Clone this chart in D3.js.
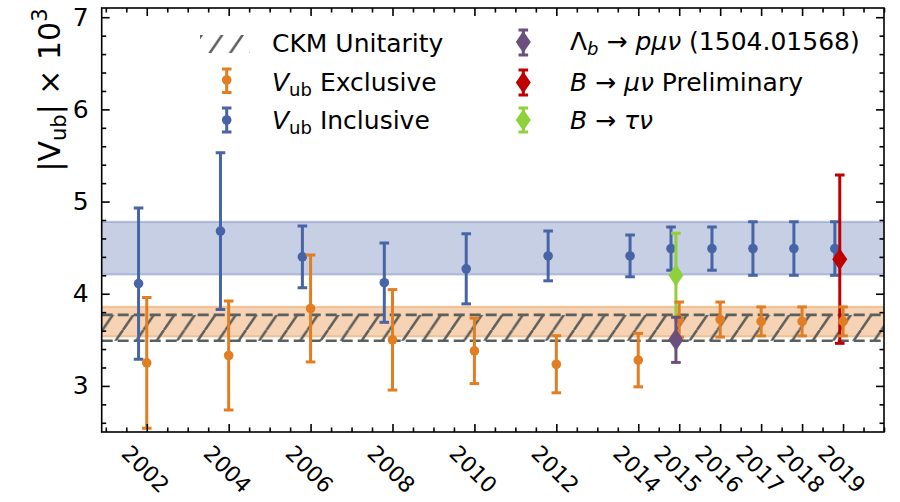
<!DOCTYPE html>
<html>
<head>
<meta charset="utf-8">
<script src="https://cdn.jsdelivr.net/npm/d3@7/dist/d3.min.js"></script>
<style>
  html, body { margin: 0; padding: 0; background: #fff; }
  svg { display: block; font-family: "DejaVu Sans", sans-serif; }
</style>
</head>
<body>
<svg id="chart" width="900" height="502"></svg>
<script>
// |Vub| determinations by year
const years = [2002, 2004, 2006, 2008, 2010, 2012, 2014, 2015, 2016, 2017, 2018, 2019];
const inclusiveVal = [4.11, 4.68, 4.40, 4.12, 4.27, 4.41, 4.41, 4.49, 4.49, 4.49, 4.49, 4.49];
const inclusiveErr = [0.82, 0.85, 0.335, 0.43, 0.38, 0.27, 0.226, 0.235, 0.235, 0.29, 0.29, 0.29];
const exclusiveVal = [3.25, 3.33, 3.84, 3.50, 3.38, 3.235, 3.28, 3.72, 3.72, 3.70, 3.70, 3.70];
const exclusiveErr = [0.71, 0.59, 0.58, 0.545, 0.355, 0.31, 0.29, 0.19, 0.19, 0.157, 0.157, 0.157];

// averages shown as horizontal bands [low, high]
const inclusiveBand = [4.21, 4.78];
const exclusiveBand = [3.535, 3.86];
const ckmBand = [3.49, 3.77];

// single measurements: [year, value, error]
const lambdaB = [2015, 3.50, 0.245];
const tauNu = [2015, 4.20, 0.455];
const muNu = [2019, 4.375, 0.913];

const tickYears = [2002, 2004, 2006, 2008, 2010, 2012, 2014, 2015, 2016, 2017, 2018, 2019];
const yTickValues = [3, 4, 5, 6, 7];

const colors = {
  inclusive: "#4764a6",
  exclusive: "#e17e23",
  lambda: "#6b4f7c",
  mu: "#bf0000",
  tau: "#8ed13b",
  ckm: "#5c5f5c"
};

const svg = d3.select("#chart");
const x = d3.scaleLinear().domain([2000.9, 2020.0]).range([101.7, 884]);
const y = d3.scaleLinear().domain([2.5, 7.1]).range([432, 8]);
const [x0, x1] = x.range();
const [yb, yt] = y.range();

// hatch pattern for the CKM band
const defs = svg.append("defs");
const pat = defs.append("pattern")
  .attr("id", "hatch").attr("patternUnits", "userSpaceOnUse")
  .attr("width", 20.5).attr("height", 30);
pat.append("path")
  .attr("d", "M-20.5,30 L0,0 M0,30 L20.5,0 M20.5,30 L41,0")
  .attr("stroke", colors.ckm).attr("stroke-width", 2.5).attr("fill", "none");

defs.append("clipPath").attr("id", "plotclip")
  .append("rect").attr("x", x0).attr("y", yt).attr("width", x1 - x0).attr("height", yb - yt);

const plot = svg.append("g").attr("clip-path", "url(#plotclip)");

function band(range, color, opacity, edgeOpacity) {
  plot.append("rect")
    .attr("x", x0).attr("width", x1 - x0)
    .attr("y", y(range[1])).attr("height", y(range[0]) - y(range[1]))
    .attr("fill", color).attr("fill-opacity", opacity);
  range.forEach(v => plot.append("line")
    .attr("x1", x0).attr("x2", x1).attr("y1", y(v)).attr("y2", y(v))
    .attr("stroke", color).attr("stroke-opacity", edgeOpacity).attr("stroke-width", 2));
}
band(inclusiveBand, colors.inclusive, 0.31, 0.35);
band(exclusiveBand, colors.exclusive, 0.34, 0.35);

// CKM unitarity band: hatched with dashed edges
plot.append("rect")
  .attr("x", x0).attr("width", x1 - x0)
  .attr("y", y(ckmBand[1])).attr("height", y(ckmBand[0]) - y(ckmBand[1]))
  .attr("fill", "url(#hatch)");
ckmBand.forEach(v => plot.append("line")
  .attr("x1", x0).attr("x2", x1).attr("y1", y(v)).attr("y2", y(v))
  .attr("stroke", colors.ckm).attr("stroke-width", 2.7)
  .attr("stroke-dasharray", "11,5"));

function errorBar(g, cx, cy, yTop, yBot, color, cap) {
  g.append("line").attr("x1", cx).attr("x2", cx).attr("y1", yTop).attr("y2", yBot)
    .attr("stroke", color).attr("stroke-width", 3);
  [yTop, yBot].forEach(v => g.append("line")
    .attr("x1", cx - cap).attr("x2", cx + cap).attr("y1", v).attr("y2", v)
    .attr("stroke", color).attr("stroke-width", 3));
}
function circleMark(g, cx, cy, color) {
  g.append("circle").attr("cx", cx).attr("cy", cy).attr("r", 4.8).attr("fill", color);
}
function diamondMark(g, cx, cy, color) {
  g.append("path")
    .attr("d", `M${cx},${cy - 11} L${cx + 7.5},${cy} L${cx},${cy + 11} L${cx - 7.5},${cy} Z`)
    .attr("fill", color);
}

function series(vals, errs, offset, color) {
  const g = plot.append("g");
  years.forEach((yr, i) => {
    const cx = x(yr + offset), v = vals[i], e = errs[i];
    errorBar(g, cx, y(v), y(v + e), y(v - e), color, 4.8);
    circleMark(g, cx, y(v), color);
  });
}
function single(m, offset, color) {
  const g = plot.append("g");
  const cx = x(m[0] + offset);
  errorBar(g, cx, y(m[1]), y(m[1] + m[2]), y(m[1] - m[2]), color, 4.8);
  diamondMark(g, cx, y(m[1]), color);
}

series(inclusiveVal, inclusiveErr, -0.2, colors.inclusive);
single(tauNu, -0.08, colors.tau);
single(muNu, -0.08, colors.mu);
series(exclusiveVal, exclusiveErr, 0, colors.exclusive);
single(lambdaB, -0.08, colors.lambda);

// axes: inward ticks on all four sides
const minorX = d3.range(2001, 2020.01, 0.5).filter(v => !tickYears.includes(v));
const minorY = d3.range(2.6, 7.01, 0.2).filter(v => !yTickValues.some(t => Math.abs(t - v) < 1e-6));

function styleAxis(g) {
  g.select(".domain").remove();
  g.selectAll(".tick line").attr("stroke", "#000").attr("stroke-width", 1.6);
}

svg.append("g").attr("transform", `translate(0,${yb})`)
  .call(d3.axisBottom(x).tickValues(tickYears).tickSize(-8).tickFormat("")).call(styleAxis);
svg.append("g").attr("transform", `translate(0,${yb})`)
  .call(d3.axisBottom(x).tickValues(minorX).tickSize(-4.5).tickFormat("")).call(styleAxis);
svg.append("g").attr("transform", `translate(0,${yt})`)
  .call(d3.axisTop(x).tickValues(tickYears).tickSize(-8).tickFormat("")).call(styleAxis);
svg.append("g").attr("transform", `translate(0,${yt})`)
  .call(d3.axisTop(x).tickValues(minorX).tickSize(-4.5).tickFormat("")).call(styleAxis);

const yAxisG = svg.append("g").attr("transform", `translate(${x0},0)`)
  .call(d3.axisLeft(y).tickValues(yTickValues).tickSize(-8).tickPadding(13).tickFormat(d3.format("d")))
  .call(styleAxis);
yAxisG.selectAll(".tick text").attr("font-size", 25).attr("fill", "#000")
  .attr("font-family", "DejaVu Sans");
svg.append("g").attr("transform", `translate(${x0},0)`)
  .call(d3.axisLeft(y).tickValues(minorY).tickSize(-4.5).tickFormat("")).call(styleAxis);
svg.append("g").attr("transform", `translate(${x1},0)`)
  .call(d3.axisRight(y).tickValues(yTickValues).tickSize(-8).tickFormat("")).call(styleAxis);
svg.append("g").attr("transform", `translate(${x1},0)`)
  .call(d3.axisRight(y).tickValues(minorY).tickSize(-4.5).tickFormat("")).call(styleAxis);

svg.append("rect").attr("x", x0).attr("y", yt).attr("width", x1 - x0).attr("height", yb - yt)
  .attr("fill", "none").attr("stroke", "#000").attr("stroke-width", 1.6);

// rotated year labels
svg.append("g").selectAll("text").data(tickYears).join("text")
  .attr("transform", d => `translate(${x(d) - 1},${yb + 37}) rotate(45)`)
  .attr("text-anchor", "middle").attr("dy", "0.36em")
  .attr("font-size", 22).text(d => d);

// y-axis title: |V_ub| x 10^3
const yl = svg.append("text")
  .attr("transform", `translate(60,90) rotate(-90)`)
  .attr("text-anchor", "middle").attr("font-size", 30);
yl.append("tspan").text("|V");
yl.append("tspan").attr("font-size", 21).attr("dy", 6).text("ub");
yl.append("tspan").attr("dy", -6).text("| × 10");
yl.append("tspan").attr("font-size", 21).attr("dy", -13).text("3");

// legend
const leg = svg.append("g").attr("font-size", 25);
leg.append("rect").attr("x", 200).attr("y", 35).attr("width", 50).attr("height", 18)
  .attr("fill", "url(#hatch)");
function legText(tx, ty, parts) {
  const t = leg.append("text").attr("x", tx).attr("y", ty);
  parts.forEach(p => {
    const s = t.append("tspan").text(p.t);
    if (p.i) s.attr("font-style", "italic");
    if (p.sub) s.attr("font-size", 18).attr("dy", 5);
    if (p.up) s.attr("dy", -5);
  });
}
legText(272, 52, [{ t: "CKM Unitarity" }]);

errorBar(leg, 226.7, 80, 69, 92.5, colors.exclusive, 4.8);
circleMark(leg, 226.7, 80, colors.exclusive);
legText(272, 91, [{ t: "V", i: true }, { t: "ub", sub: true }, { t: " Exclusive", up: true }]);

errorBar(leg, 226.7, 120, 108, 132, colors.inclusive, 4.8);
circleMark(leg, 226.7, 120, colors.inclusive);
legText(272, 129, [{ t: "V", i: true }, { t: "ub", sub: true }, { t: " Inclusive", up: true }]);

errorBar(leg, 523.3, 42, 30, 55, colors.lambda, 4.8);
diamondMark(leg, 523.3, 42, colors.lambda);
legText(570, 50, [{ t: "Λ" }, { t: "b", sub: true, i: true }, { t: " → ", up: true }, { t: "pμν", i: true }, { t: " (1504.01568)" }]);

errorBar(leg, 523.3, 82.5, 70, 95, colors.mu, 4.8);
diamondMark(leg, 523.3, 82.5, colors.mu);
legText(570, 91, [{ t: "B", i: true }, { t: " → " }, { t: "μν", i: true }, { t: " Preliminary" }]);

errorBar(leg, 523.3, 120, 108, 132, colors.tau, 4.8);
diamondMark(leg, 523.3, 120, colors.tau);
legText(570, 129, [{ t: "B", i: true }, { t: " → " }, { t: "τν", i: true }]);
</script>
</body>
</html>
